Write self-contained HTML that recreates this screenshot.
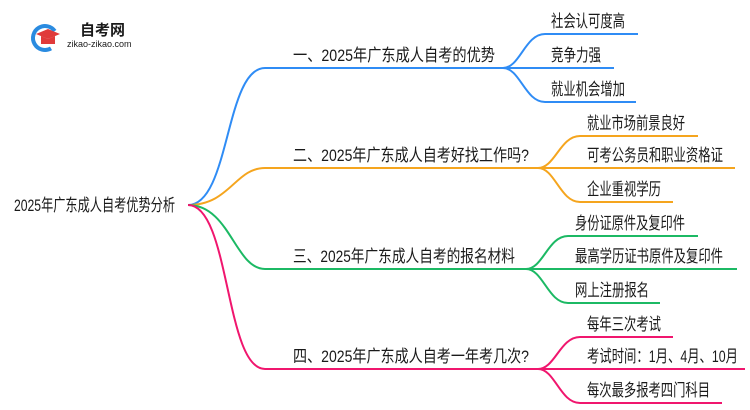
<!DOCTYPE html>
<html><head><meta charset="utf-8"><style>
html,body{margin:0;padding:0;background:#fff;}
svg{display:block}
text{font-family:"Liberation Sans","Noto Sans CJK SC",sans-serif;font-size:17px;fill:#1a1a1a;}
</style></head><body>
<svg width="750" height="410" viewBox="0 0 750 410" xmlns="http://www.w3.org/2000/svg">
<!-- logo -->
<circle cx="45" cy="38" r="12" fill="none" stroke="#2a8be0" stroke-width="4" stroke-dasharray="55 30" transform="rotate(60 45 38)"/>
<path d="M36 34 L48 29 L60 34 L48 39 Z" fill="#e03a3a"/>
<path d="M41 36 L41 44 L55 44 L55 36 L48 39 Z" fill="#e03a3a"/>
<text x="80" y="35" style="font-size:15px;font-weight:bold" fill="#333">自考网</text>
<text x="67" y="47" style="font-size:9px" fill="#555">zikao-zikao.com</text>

<text x="14" y="211" textLength="161" lengthAdjust="spacingAndGlyphs">2025年广东成人自考优势分析</text>

<g fill="none" stroke-width="2">
<path d="M188 205 C230 205,225 68,265 68 L503 68" stroke="#2f8cf5"/>
<path d="M503 68 C520 68,525 34,545 34 L638 34" stroke="#2f8cf5"/>
<path d="M503 68 L614 68" stroke="#2f8cf5"/>
<path d="M503 68 C520 68,525 102,545 102 L636 102" stroke="#2f8cf5"/>
<path d="M188 205 C230 205,235 168,265 168 L538 168" stroke="#f5a51e"/>
<path d="M538 168 C555 168,560 136,580 136 L698 136" stroke="#f5a51e"/>
<path d="M538 168 L735 168" stroke="#f5a51e"/>
<path d="M538 168 C555 168,560 202,580 202 L673 202" stroke="#f5a51e"/>
<path d="M188 205 C230 205,235 269,265 269 L526 269" stroke="#1cb964"/>
<path d="M526 269 C543 269,548 236,568 236 L698 236" stroke="#1cb964"/>
<path d="M526 269 L737 269" stroke="#1cb964"/>
<path d="M526 269 C543 269,548 303,568 303 L660 303" stroke="#1cb964"/>
<path d="M188 205 C230 205,225 369,265 369 L538 369" stroke="#f0166e"/>
<path d="M538 369 C555 369,560 337,580 337 L673 337" stroke="#f0166e"/>
<path d="M538 369 L745 369" stroke="#f0166e"/>
<path d="M538 369 C555 369,560 403,580 403 L722 403" stroke="#f0166e"/>
</g>

<text x="293" y="61" textLength="202" lengthAdjust="spacingAndGlyphs">一、2025年广东成人自考的优势</text>
<text x="293" y="161" textLength="236" lengthAdjust="spacingAndGlyphs">二、2025年广东成人自考好找工作吗?</text>
<text x="293" y="262" textLength="222" lengthAdjust="spacingAndGlyphs">三、2025年广东成人自考的报名材料</text>
<text x="293" y="362" textLength="236" lengthAdjust="spacingAndGlyphs">四、2025年广东成人自考一年考几次?</text>

<text x="551" y="27" textLength="74" lengthAdjust="spacingAndGlyphs">社会认可度高</text>
<text x="551" y="61" textLength="50" lengthAdjust="spacingAndGlyphs">竞争力强</text>
<text x="551" y="95" textLength="74" lengthAdjust="spacingAndGlyphs">就业机会增加</text>

<text x="587" y="129" textLength="98" lengthAdjust="spacingAndGlyphs">就业市场前景良好</text>
<text x="587" y="161" textLength="136" lengthAdjust="spacingAndGlyphs">可考公务员和职业资格证</text>
<text x="587" y="195" textLength="74" lengthAdjust="spacingAndGlyphs">企业重视学历</text>

<text x="575" y="229" textLength="110" lengthAdjust="spacingAndGlyphs">身份证原件及复印件</text>
<text x="575" y="262" textLength="148" lengthAdjust="spacingAndGlyphs">最高学历证书原件及复印件</text>
<text x="575" y="296" textLength="74" lengthAdjust="spacingAndGlyphs">网上注册报名</text>

<text x="587" y="330" textLength="74" lengthAdjust="spacingAndGlyphs">每年三次考试</text>
<text x="587" y="362" textLength="151" lengthAdjust="spacingAndGlyphs">考试时间：1月、4月、10月</text>
<text x="587" y="396" textLength="123" lengthAdjust="spacingAndGlyphs">每次最多报考四门科目</text>
</svg>
</body></html>
